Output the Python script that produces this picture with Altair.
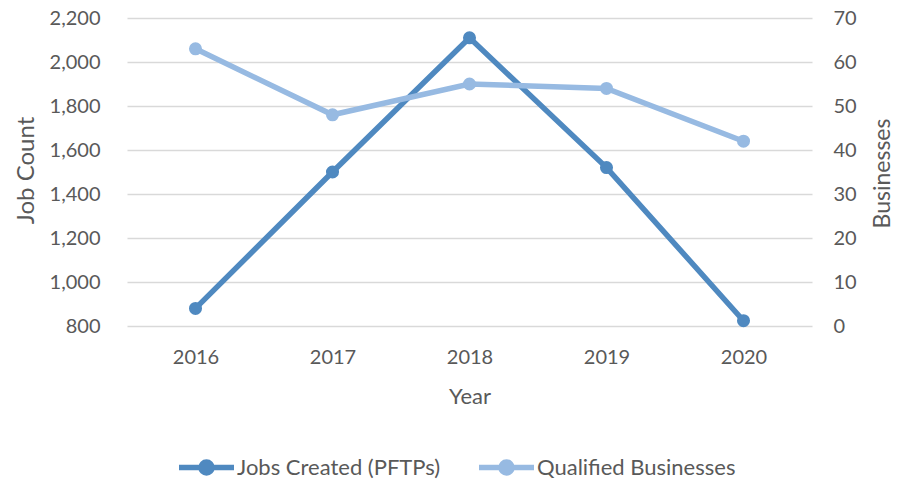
import altair as alt
import pandas as pd

years = ["2016", "2017", "2018", "2019", "2020"]
jobs = [880, 1500, 2110, 1520, 824]
businesses = [63, 48, 55, 54, 42]
series = ["Jobs Created (PFTPs)", "Qualified Businesses"]
colors = ["#4f89c0", "#97bae2"]

df = pd.DataFrame({"Year": years, "jobs": jobs, "biz": businesses})

FONT = "Lato"
TXT = "#595959"

# legend symbol: a line with a dot in the middle, drawn as strokes
sym = ("M-1,0H1"
       "M-0.2,0A0.2,0.2 0 1,1 0.2,0A0.2,0.2 0 1,1 -0.2,0"
       "M-0.06,0A0.06,0.06 0 1,1 0.06,0A0.06,0.06 0 1,1 -0.06,0")

color = alt.Color(
    "s:N",
    scale=alt.Scale(domain=series, range=colors),
    legend=alt.Legend(
        title=None, orient="none", direction="horizontal",
        legendX=49, legendY=419, padding=0,
        symbolType=sym, symbolSize=3025, symbolStrokeWidth=5.5,
        labelFont=FONT, labelFontSize=22, labelColor=TXT, labelOffset=0,
        labelLimit=400, columnPadding=27,
    ),
)

x = alt.X(
    "Year:O",
    scale=alt.Scale(padding=0.5),
    axis=alt.Axis(
        title="Year", labelAngle=0, ticks=False, domain=False,
        labelPadding=21, labelFont=FONT, labelFontSize=20, labelColor=TXT,
        titleFont=FONT, titleFontSize=22, titleColor=TXT, titleFontWeight="normal",
        titleY=70, titleBaseline="middle",
    ),
)

jobs_layer = alt.Chart(df).transform_calculate(s=f"'{series[0]}'").mark_line(
    strokeWidth=5.5, point=alt.OverlayMarkDef(filled=True, size=170, opacity=1)
).encode(
    x=x,
    y=alt.Y(
        "jobs:Q",
        scale=alt.Scale(domain=[800, 2200], nice=False, zero=False),
        axis=alt.Axis(
            title="Job Count", values=list(range(800, 2201, 200)), format=",d",
            ticks=False, domain=False, grid=True, gridColor="#d9d9d9", gridWidth=1.3,
            labelPadding=27, labelFont=FONT, labelFontSize=20, labelColor=TXT,
            titleFont=FONT, titleFontSize=24, titleColor=TXT, titleFontWeight="normal",
            titleX=-101, titleY=152, titleAngle=270, titleBaseline="middle", titleAlign="center",
        ),
    ),
    color=color,
)

biz_layer = alt.Chart(df).transform_calculate(s=f"'{series[1]}'").mark_line(
    strokeWidth=5.5, point=alt.OverlayMarkDef(filled=True, size=170, opacity=1)
).encode(
    x=x,
    y=alt.Y(
        "biz:Q",
        scale=alt.Scale(domain=[0, 70], nice=False),
        axis=alt.Axis(
            title="Businesses", orient="right", values=list(range(0, 71, 10)),
            ticks=False, domain=False, grid=False,
            labelPadding=21, labelFont=FONT, labelFontSize=20, labelColor=TXT,
            titleFont=FONT, titleFontSize=23, titleColor=TXT, titleFontWeight="normal",
            titleX=70, titleY=155, titleAngle=270, titleBaseline="middle", titleAlign="center",
        ),
    ),
    color=color,
)

chart = alt.layer(jobs_layer, biz_layer).resolve_scale(y="independent").properties(
    width=685, height=308,
    autosize=alt.AutoSizeParams(type="none"),
    padding={"left": 119, "top": 10, "right": 81, "bottom": 156},
).configure_view(stroke=None)

chart.save("out.html", embed_options={"renderer": "svg", "actions": False})
